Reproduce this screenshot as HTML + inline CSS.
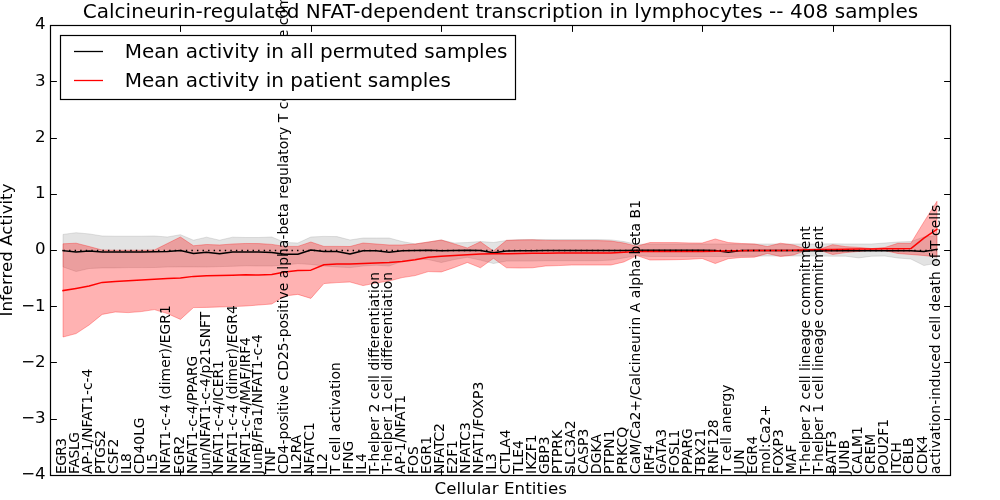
<!DOCTYPE html>
<html><head><meta charset="utf-8"><title>Calcineurin-regulated NFAT-dependent transcription in lymphocytes</title>
<style>html,body{margin:0;padding:0;background:#fff;overflow:hidden;}svg{display:block;will-change:transform;}</style>
</head><body>
<svg width="1000" height="500" viewBox="0 0 1000 500">
<defs><clipPath id="ax"><rect x="50" y="25" width="900" height="450"/></clipPath></defs>
<rect x="0" y="0" width="1000" height="500" fill="#ffffff"/>
<g clip-path="url(#ax)">
<path d="M63.04 234.42 L76.09 232.73 L89.13 233.91 L102.17 235.99 L115.22 236.22 L128.26 236.22 L141.3 236.22 L154.35 235.99 L167.39 237.01 L180.43 234.7 L193.48 240.21 L206.52 237.18 L219.57 240.21 L232.61 237.18 L245.65 237.51 L258.7 237.51 L271.74 237.01 L284.78 242.41 L297.83 243.03 L310.87 237.01 L323.91 236.39 L336.96 236.61 L350 239.99 L363.04 238.02 L376.09 238.02 L389.13 238.02 L402.17 241.51 L415.22 243.98 L428.26 242.13 L441.3 239.99 L454.35 243.03 L467.39 242.52 L480.43 241.51 L493.48 242.52 L506.52 240.44 L519.57 239.59 L532.61 239.59 L545.65 239.59 L558.7 239.59 L571.74 239.59 L584.78 239.59 L597.83 239.59 L610.87 239.88 L623.91 241.56 L636.96 244.38 L650 243.98 L663.04 243.98 L676.09 243.98 L689.13 243.98 L702.17 243.98 L715.22 243.98 L728.26 243.98 L741.3 243.98 L754.35 243.98 L767.39 243.98 L780.43 243.98 L793.48 243.98 L806.52 243.98 L819.57 243.98 L832.61 243.81 L845.65 243.98 L858.7 243.98 L871.74 243.98 L884.78 243.03 L897.83 242.01 L910.87 241.51 L923.91 237.01 L936.96 235.49 L936.96 262.99 L923.91 265.52 L910.87 259 L897.83 257.99 L884.78 256.02 L871.74 256.19 L858.7 257.88 L845.65 256.19 L832.61 256.19 L819.57 256.02 L806.52 256.02 L793.48 256.02 L780.43 256.02 L767.39 256.02 L754.35 256.19 L741.3 256.19 L728.26 256.47 L715.22 256.47 L702.17 256.47 L689.13 256.47 L676.09 256.47 L663.04 256.47 L650 256.47 L636.96 255.62 L623.91 257.88 L610.87 260.12 L597.83 260.69 L584.78 260.69 L571.74 260.69 L558.7 260.69 L545.65 260.69 L532.61 261.02 L519.57 261.02 L506.52 261.02 L493.48 263.5 L480.43 260.12 L467.39 257.31 L454.35 259.56 L441.3 262.49 L428.26 259.56 L415.22 259 L402.17 261.25 L389.13 265.98 L376.09 265.19 L363.04 265.98 L350 267.61 L336.96 266.88 L323.91 265.98 L310.87 264.4 L297.83 263.61 L284.78 265.02 L271.74 265.98 L258.7 265.98 L245.65 265.75 L232.61 266.31 L219.57 266.59 L206.52 266.99 L193.48 266.88 L180.43 266.88 L167.39 266.99 L154.35 267.49 L141.3 267.61 L128.26 267.61 L115.22 267.89 L102.17 267.89 L89.13 268.51 L76.09 271.49 L63.04 266.88 Z" fill="#808080" fill-opacity="0.22" stroke="#808080" stroke-opacity="0.22" stroke-width="1" stroke-linejoin="round"/>
<path d="M63.04 243.81 L76.09 243.19 L89.13 246.51 L102.17 250 L115.22 250.22 L128.26 250.22 L141.3 250.22 L154.35 250 L167.39 243.48 L180.43 237.01 L193.48 245.78 L206.52 244.49 L219.57 244.99 L232.61 243.98 L245.65 243.48 L258.7 243.59 L271.74 244.38 L284.78 246.4 L297.83 246.4 L310.87 242.01 L323.91 246.4 L336.96 246.4 L350 246.51 L363.04 243.03 L376.09 243.98 L389.13 244.99 L402.17 244.99 L415.22 243.98 L428.26 242.01 L441.3 239.99 L454.35 243.98 L467.39 247.98 L480.43 241.79 L493.48 251.01 L506.52 240.33 L519.57 239.99 L532.61 239.82 L545.65 240.38 L558.7 240.61 L571.74 240.61 L584.78 240.61 L597.83 240.61 L610.87 241 L623.91 243.03 L636.96 246.18 L650 242.52 L663.04 242.58 L676.09 242.58 L689.13 242.91 L702.17 243.03 L715.22 238.98 L728.26 242.52 L741.3 243.48 L754.35 243.98 L767.39 246.51 L780.43 243.19 L793.48 244.99 L806.52 249.33 L819.57 249.33 L832.61 244.66 L845.65 246.63 L858.7 247.41 L871.74 248.59 L884.78 247.53 L897.83 243.31 L910.87 243.31 L923.91 221.88 L936.96 201.29 L936.96 256.98 L923.91 255.51 L910.87 254.5 L897.83 253.49 L884.78 250.56 L871.74 250 L858.7 251.41 L845.65 252.59 L832.61 254.5 L819.57 250.17 L806.52 250.34 L793.48 255.01 L780.43 256.52 L767.39 253.49 L754.35 257.2 L741.3 257.48 L728.26 258.72 L715.22 263.5 L702.17 258.49 L689.13 259.34 L676.09 259.68 L663.04 259.9 L650 260.01 L636.96 255.62 L623.91 261.98 L610.87 265.02 L597.83 265.02 L584.78 265.02 L571.74 265.02 L558.7 265.58 L545.65 265.98 L532.61 267.77 L519.57 268 L506.52 267.77 L493.48 258.33 L480.43 267.77 L467.39 262.49 L454.35 267.49 L441.3 271.94 L428.26 271.6 L415.22 275.59 L402.17 277.62 L389.13 280.99 L376.09 283.02 L363.04 285.61 L350 282.01 L336.96 282.62 L323.91 283.58 L310.87 298.38 L297.83 294.38 L284.78 296.01 L271.74 304 L258.7 305.01 L245.65 306.02 L232.61 306.59 L219.57 306.98 L206.52 307.38 L193.48 307.6 L180.43 319.41 L167.39 313.56 L154.35 309.62 L141.3 311.59 L128.26 312.61 L115.22 311.99 L102.17 314.41 L89.13 324.98 L76.09 333.59 L63.04 337.02 Z" fill="#ff0000" fill-opacity="0.3" stroke="#ff0000" stroke-opacity="0.3" stroke-width="1" stroke-linejoin="round"/>
<path d="M63.04 250.68 L76.09 252.03 L89.13 251.12 L102.17 251.91 L115.22 252.03 L128.26 252.03 L141.3 252.03 L154.35 251.8 L167.39 251.52 L180.43 250.51 L193.48 253.49 L206.52 252.19 L219.57 253.83 L232.61 252.03 L245.65 252.03 L258.7 252.03 L271.74 252.42 L284.78 254.22 L297.83 254.22 L310.87 250 L323.91 251.41 L336.96 251.41 L350 253.99 L363.04 250.68 L376.09 250.68 L389.13 252.19 L402.17 250.68 L415.22 250.56 L428.26 250.28 L441.3 250.79 L454.35 250.51 L467.39 250.28 L480.43 250.51 L493.48 252.81 L506.52 251.01 L519.57 250.68 L532.61 250.68 L545.65 250.56 L558.7 250.56 L571.74 250.56 L584.78 250.56 L597.83 250.56 L610.87 250.56 L623.91 250.56 L636.96 250.28 L650 250.28 L663.04 250.28 L676.09 250.28 L689.13 250.34 L702.17 250.34 L715.22 250.45 L728.26 252.25 L741.3 250.56 L754.35 250.56 L767.39 250.56 L780.43 250.56 L793.48 250.56 L806.52 250.73 L819.57 250.79 L832.61 250.79 L845.65 250.79 L858.7 250.79 L871.74 250.79 L884.78 250.79 L897.83 250.79 L910.87 250.79 L923.91 251.52 L936.96 249.33" fill="none" stroke="#000000" stroke-width="1.5" stroke-linejoin="round" stroke-linecap="square"/>
<path d="M63.04 290.61 L76.09 288.42 L89.13 286 L102.17 282.4 L115.22 281.39 L128.26 280.82 L141.3 279.98 L154.35 279.19 L167.39 278.41 L180.43 278.01 L193.48 276.38 L206.52 275.82 L219.57 275.59 L232.61 275.2 L245.65 274.81 L258.7 274.98 L271.74 274.58 L284.78 272.05 L297.83 270.59 L310.87 270.14 L323.91 264.74 L336.96 264.01 L350 264.06 L363.04 263.5 L376.09 263.05 L389.13 262.49 L402.17 261.53 L415.22 259.84 L428.26 257.31 L441.3 256.19 L454.35 255.51 L467.39 254.78 L480.43 253.99 L493.48 253.83 L506.52 253.71 L519.57 253.49 L532.61 253.26 L545.65 253.21 L558.7 253.09 L571.74 253.09 L584.78 253.09 L597.83 253.09 L610.87 252.98 L623.91 252.14 L636.96 251.57 L650 251.57 L663.04 251.57 L676.09 251.52 L689.13 251.46 L702.17 251.41 L715.22 251.18 L728.26 250.84 L741.3 250.68 L754.35 250.51 L767.39 250.51 L780.43 250.51 L793.48 250.34 L806.52 249.78 L819.57 249.61 L832.61 249.44 L845.65 249.27 L858.7 249.1 L871.74 248.88 L884.78 248.76 L897.83 248.71 L910.87 248.59 L923.91 238.19 L936.96 229.19" fill="none" stroke="#ff0000" stroke-width="1.5" stroke-linejoin="round" stroke-linecap="square"/>
<path d="M63.04 250.5 L936.96 250.5" stroke="#000" stroke-width="1.39" stroke-dasharray="1.39 4.17" stroke-dashoffset="-0.5" fill="none"/>
</g>
<g font-family="'DejaVu Sans', 'Bitstream Vera Sans', 'Liberation Sans', sans-serif" font-size="13.89px" fill="#000">
<text transform="translate(65.74 473.9) rotate(-90)" textLength="36" lengthAdjust="spacing">EGR3</text>
<text transform="translate(78.79 473.9) rotate(-90)" textLength="41.9" lengthAdjust="spacing">FASLG</text>
<text transform="translate(91.83 473.9) rotate(-90)">AP-1/NFAT1-c-4</text>
<text transform="translate(104.87 473.9) rotate(-90)" textLength="43.83" lengthAdjust="spacing">PTGS2</text>
<text transform="translate(117.92 473.9) rotate(-90)">CSF2</text>
<text transform="translate(130.96 473.9) rotate(-90)">IL8</text>
<text transform="translate(144 473.9) rotate(-90)">CD40LG</text>
<text transform="translate(157.05 473.9) rotate(-90)">IL5</text>
<text transform="translate(170.49 473.9) rotate(-90)" textLength="168.79" lengthAdjust="spacing">NFAT1-c-4 (dimer)/EGR1</text>
<text transform="translate(183.53 473.9) rotate(-90)">EGR2</text>
<text transform="translate(196.58 473.9) rotate(-90)" textLength="118.29" lengthAdjust="spacing">NFAT1-c-4/PPARG</text>
<text transform="translate(209.62 473.9) rotate(-90)">Jun/NFAT1-c-4/p21SNFT</text>
<text transform="translate(223.47 473.9) rotate(-90)" textLength="113.67" lengthAdjust="spacing">NFAT1-c-4/ICER1</text>
<text transform="translate(236.51 473.9) rotate(-90)" textLength="168.79" lengthAdjust="spacing">NFAT1-c-4 (dimer)/EGR4</text>
<text transform="translate(249.55 473.9) rotate(-90)" textLength="136.81" lengthAdjust="spacing">NFAT1-c-4/MAF/IRF4</text>
<text transform="translate(262.3 473.9) rotate(-90)">JunB/Fra1/NFAT1-c-4</text>
<text transform="translate(275.34 473.9) rotate(-90)">TNF</text>
<text transform="translate(288.38 473.9) rotate(-90)" textLength="537.62" lengthAdjust="spacing">CD4-positive CD25-positive alpha-beta regulatory T cell lineage commitment</text>
<text transform="translate(301.43 473.9) rotate(-90)">IL2RA</text>
<text transform="translate(314.47 473.9) rotate(-90)">NFATC1</text>
<text transform="translate(327.01 473.9) rotate(-90)">IL2</text>
<text transform="translate(340.06 473.9) rotate(-90)" textLength="111.79" lengthAdjust="spacing">T cell activation</text>
<text transform="translate(353.1 473.9) rotate(-90)">IFNG</text>
<text transform="translate(365.64 473.9) rotate(-90)">IL4</text>
<text transform="translate(378.69 473.9) rotate(-90)" textLength="202.05" lengthAdjust="spacing">T-helper 2 cell differentiation</text>
<text transform="translate(391.73 473.9) rotate(-90)" textLength="202.05" lengthAdjust="spacing">T-helper 1 cell differentiation</text>
<text transform="translate(404.77 473.9) rotate(-90)">AP-1/NFAT1</text>
<text transform="translate(417.82 473.9) rotate(-90)">FOS</text>
<text transform="translate(430.86 473.9) rotate(-90)">EGR1</text>
<text transform="translate(443.9 473.9) rotate(-90)" textLength="50.79" lengthAdjust="spacing">NFATC2</text>
<text transform="translate(456.95 473.9) rotate(-90)" textLength="33.61" lengthAdjust="spacing">E2F1</text>
<text transform="translate(470.19 473.9) rotate(-90)">NFATC3</text>
<text transform="translate(483.23 473.9) rotate(-90)">NFAT1/FOXP3</text>
<text transform="translate(496.28 473.9) rotate(-90)">IL3</text>
<text transform="translate(510.02 473.9) rotate(-90)">CTLA4</text>
<text transform="translate(523.07 473.9) rotate(-90)">TLE4</text>
<text transform="translate(536.11 473.9) rotate(-90)">IKZF1</text>
<text transform="translate(549.15 473.9) rotate(-90)">GBP3</text>
<text transform="translate(562.2 473.9) rotate(-90)">PTPRK</text>
<text transform="translate(575.24 473.9) rotate(-90)">SLC3A2</text>
<text transform="translate(588.28 473.9) rotate(-90)">CASP3</text>
<text transform="translate(601.33 473.9) rotate(-90)">DGKA</text>
<text transform="translate(614.37 473.9) rotate(-90)">PTPN1</text>
<text transform="translate(627.41 473.9) rotate(-90)">PRKCQ</text>
<text transform="translate(640.46 473.9) rotate(-90)" textLength="273.9" lengthAdjust="spacing">CaM/Ca2+/Calcineurin A alpha-beta B1</text>
<text transform="translate(653.5 473.9) rotate(-90)" textLength="29.25" lengthAdjust="spacing">IRF4</text>
<text transform="translate(665.64 473.9) rotate(-90)">GATA3</text>
<text transform="translate(678.69 473.9) rotate(-90)">FOSL1</text>
<text transform="translate(691.73 473.9) rotate(-90)">PPARG</text>
<text transform="translate(704.77 473.9) rotate(-90)">TBX21</text>
<text transform="translate(717.82 473.9) rotate(-90)">RNF128</text>
<text transform="translate(730.86 473.9) rotate(-90)">T cell anergy</text>
<text transform="translate(743.9 473.9) rotate(-90)">JUN</text>
<text transform="translate(757.25 473.9) rotate(-90)">EGR4</text>
<text transform="translate(770.29 473.9) rotate(-90)">mol:Ca2+</text>
<text transform="translate(783.33 473.9) rotate(-90)">FOXP3</text>
<text transform="translate(796.38 473.9) rotate(-90)">MAF</text>
<text transform="translate(810.02 473.9) rotate(-90)" textLength="247.61" lengthAdjust="spacing">T-helper 2 cell lineage commitment</text>
<text transform="translate(823.07 473.9) rotate(-90)" textLength="247.61" lengthAdjust="spacing">T-helper 1 cell lineage commitment</text>
<text transform="translate(836.11 473.9) rotate(-90)">BATF3</text>
<text transform="translate(849.15 473.9) rotate(-90)">JUNB</text>
<text transform="translate(862 473.9) rotate(-90)">CALM1</text>
<text transform="translate(875.04 473.9) rotate(-90)">CREM</text>
<text transform="translate(888.08 473.9) rotate(-90)">POU2F1</text>
<text transform="translate(901.13 473.9) rotate(-90)">ITCH</text>
<text transform="translate(913.47 473.9) rotate(-90)">CBLB</text>
<text transform="translate(926.51 473.9) rotate(-90)">CDK4</text>
<text transform="translate(939.56 473.9) rotate(-90)" textLength="269.12" lengthAdjust="spacing">activation-induced cell death of T cells</text>
</g>
<rect x="60.5" y="35.5" width="455" height="64" fill="#ffffff" stroke="#000" stroke-width="1.2"/>
<path d="M74 51.5 L103 51.5" stroke="#000" stroke-width="1.3"/>
<path d="M74 80.5 L103 80.5" stroke="#ff0000" stroke-width="1.3"/>
<g font-family="'DejaVu Sans', 'Bitstream Vera Sans', 'Liberation Sans', sans-serif" font-size="20px" fill="#000">
<text x="124.8" y="58.2">Mean activity in all permuted samples</text>
<text x="124.8" y="87.2">Mean activity in patient samples</text>
</g>
<rect x="50.5" y="25.5" width="900" height="450" fill="none" stroke="#000" stroke-width="1.2"/>
<path d="M50.5 25.5 L50.5 31.9 M50.5 475.5 L50.5 469.1 M180.5 25.5 L180.5 31.9 M180.5 475.5 L180.5 469.1 M311.5 25.5 L311.5 31.9 M311.5 475.5 L311.5 469.1 M441.5 25.5 L441.5 31.9 M441.5 475.5 L441.5 469.1 M572.5 25.5 L572.5 31.9 M572.5 475.5 L572.5 469.1 M702.5 25.5 L702.5 31.9 M702.5 475.5 L702.5 469.1 M833.5 25.5 L833.5 31.9 M833.5 475.5 L833.5 469.1 M50.5 475.5 L56.9 475.5 M950.5 475.5 L944.1 475.5 M50.5 419.5 L56.9 419.5 M950.5 419.5 L944.1 419.5 M50.5 362.5 L56.9 362.5 M950.5 362.5 L944.1 362.5 M50.5 306.5 L56.9 306.5 M950.5 306.5 L944.1 306.5 M50.5 250.5 L56.9 250.5 M950.5 250.5 L944.1 250.5 M50.5 194.5 L56.9 194.5 M950.5 194.5 L944.1 194.5 M50.5 138.5 L56.9 138.5 M950.5 138.5 L944.1 138.5 M50.5 81.5 L56.9 81.5 M950.5 81.5 L944.1 81.5 M50.5 25.5 L56.9 25.5 M950.5 25.5 L944.1 25.5" stroke="#000" stroke-width="1" fill="none"/>
<g font-family="'DejaVu Sans', 'Bitstream Vera Sans', 'Liberation Sans', sans-serif" font-size="16.67px" fill="#000" text-anchor="end">
<text x="45.7" y="479.35">−4</text>
<text x="45.7" y="423.1">−3</text>
<text x="45.7" y="366.85">−2</text>
<text x="45.7" y="310.6">−1</text>
<text x="45.7" y="254.35">0</text>
<text x="45.7" y="198.1">1</text>
<text x="45.7" y="141.85">2</text>
<text x="45.7" y="85.6">3</text>
<text x="45.7" y="29.35">4</text>
</g>
<text x="500.7" y="494.3" font-family="'DejaVu Sans', 'Bitstream Vera Sans', 'Liberation Sans', sans-serif" font-size="16.67px" text-anchor="middle" textLength="132.4" lengthAdjust="spacing">Cellular Entities</text>
<text transform="translate(11.8 250) rotate(-90)" font-family="'DejaVu Sans', 'Bitstream Vera Sans', 'Liberation Sans', sans-serif" font-size="16.67px" text-anchor="middle">Inferred Activity</text>
<text x="500.4" y="18.1" font-family="'DejaVu Sans', 'Bitstream Vera Sans', 'Liberation Sans', sans-serif" font-size="20px" text-anchor="middle" textLength="835.5" lengthAdjust="spacing">Calcineurin-regulated NFAT-dependent transcription in lymphocytes -- 408 samples</text>
</svg>
</body></html>
